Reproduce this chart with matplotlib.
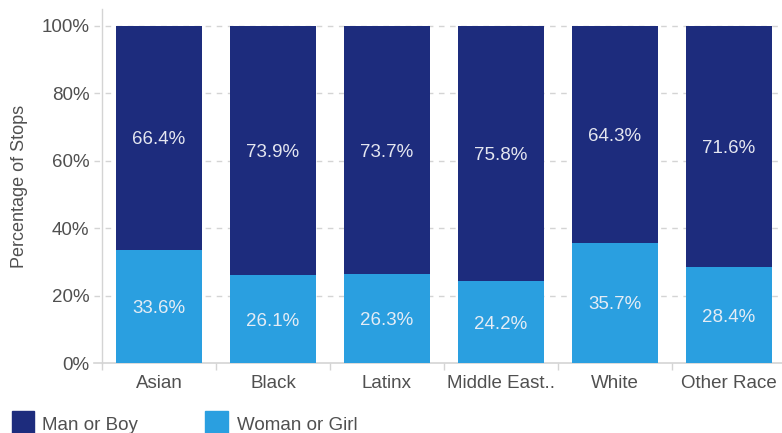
import matplotlib
matplotlib.use("Agg")
import matplotlib.pyplot as plt
from matplotlib.patches import Rectangle

categories = ["Asian", "Black", "Latinx", "Middle East..", "White", "Other Race"]
woman_or_girl = [33.6, 26.1, 26.3, 24.2, 35.7, 28.4]
man_or_boy = [66.4, 73.9, 73.7, 75.8, 64.3, 71.6]
y_ticks = [0, 20, 40, 60, 80, 100]

dark = "#1d2c7d"
light = "#2a9fe0"
grid_col = "#d4d4d4"
text_col = "#505050"
fs = 13.5

plt.rcParams["font.family"] = ["Liberation Sans", "DejaVu Sans"]

fig = plt.figure(figsize=(7.82, 4.33), dpi=100)
W, H = 782, 433
ax = fig.add_axes([102 / W, 70 / H, 684 / W, 354 / H])

x = list(range(len(categories)))
wg = [v / 100 for v in woman_or_girl]
mb = [v / 100 for v in man_or_boy]
ax.bar(x, wg, width=0.755, color=light, zorder=3)
ax.bar(x, mb, bottom=wg, width=0.755, color=dark, zorder=3)

for i in x:
    ax.text(i, wg[i] / 2, f"{woman_or_girl[i]:.1f}%", ha="center",
            va="center_baseline", color="#e4ecf5", fontsize=fs, zorder=4)
    ax.text(i, wg[i] + mb[i] / 2, f"{man_or_boy[i]:.1f}%", ha="center",
            va="center_baseline", color="#e4e6f0", fontsize=fs, zorder=4)

ax.set_xlim(-0.5, len(categories) - 0.5)
ax.set_ylim(0, 1.05)
ax.set_yticks([t / 100 for t in y_ticks])
ax.set_yticklabels([f"{t}%" for t in y_ticks])

# dashed horizontal guides extending a little left of the spine
for t in y_ticks[1:]:
    ax.plot([-0.57, len(categories) - 0.5], [t / 100] * 2, color=grid_col,
            lw=1, ls=(0, (4, 4)), zorder=1, clip_on=False)
ax.plot([-0.57, len(categories) - 0.5], [0, 0], color=grid_col, lw=1.2,
        zorder=2, clip_on=False)

# category separator ticks under the baseline
ax.set_xticks([i - 0.5 for i in x])
ax.set_xticklabels([])
ax.set_xticks(x, minor=True)
ax.set_xticklabels(categories, minor=True)
ax.tick_params(axis="x", which="major", length=5, color=grid_col, width=1)
ax.tick_params(axis="x", which="minor", length=0, pad=9, labelsize=fs,
               labelcolor=text_col)
ax.tick_params(axis="y", length=0, pad=9, labelsize=fs, labelcolor=text_col)

for s in ["top", "right", "bottom"]:
    ax.spines[s].set_visible(False)
ax.spines["left"].set_color(grid_col)
ax.spines["left"].set_linewidth(1)

ax.set_ylabel("Percentage of Stops", fontsize=13, color=text_col)
ax.yaxis.set_label_coords((28 - 102) / 684, 0.5)

# legend swatches along the bottom edge
fig.patches.append(Rectangle((12 / W, 0), 22 / W, 22 / H, color=dark,
                             transform=fig.transFigure, figure=fig))
fig.text(42 / W, 7 / H, "Man or Boy", fontsize=fs, color=text_col, va="center")
fig.patches.append(Rectangle((205 / W, 0), 23 / W, 22 / H, color=light,
                             transform=fig.transFigure, figure=fig))
fig.text(237 / W, 7 / H, "Woman or Girl", fontsize=fs, color=text_col, va="center")

fig.savefig("out.png", dpi=100)
